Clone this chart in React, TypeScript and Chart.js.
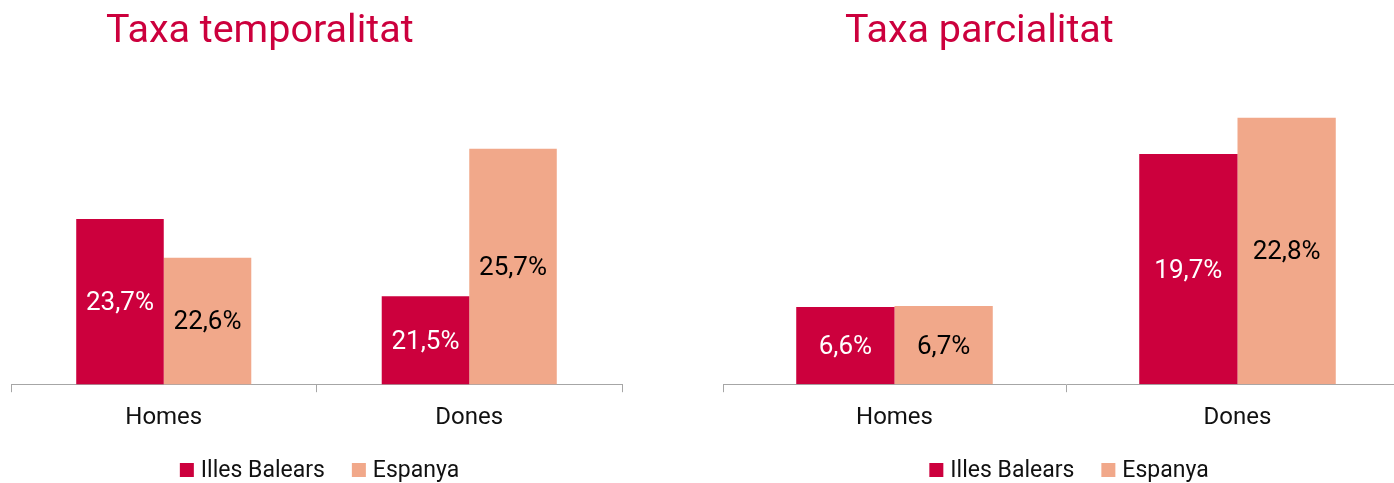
import React, { useEffect, useRef } from 'react';
import { Chart, registerables } from 'chart.js';

Chart.register(...registerables);

const categories = ['Homes', 'Dones'];
const seriesNames = ['Illes Balears', 'Espanya'];
const temporalitatIB = [23.7, 21.5];
const temporalitatES = [22.6, 25.7];
const parcialitatIB = [6.6, 19.7];
const parcialitatES = [6.7, 22.8];
const titles = ['Taxa temporalitat', 'Taxa parcialitat'];

const RED = '#CC003D';
const SALMON = '#F1A88A';
const AXIS = '#A6A6A6';
const FONT = 'Roboto';

const labelPlugin = {
  id: 'valueLabels',
  afterDatasetsDraw(chart: any) {
    const ctx = chart.ctx;
    const bottom = chart.chartArea.bottom;
    ctx.save();
    ctx.font = `400 26px ${FONT}`;
    ctx.textAlign = 'center';
    ctx.textBaseline = 'middle';
    chart.data.datasets.forEach((ds: any, i: number) => {
      const meta = chart.getDatasetMeta(i);
      ctx.fillStyle = i === 0 ? '#FFFFFF' : '#000000';
      meta.data.forEach((el: any, j: number) => {
        const v = ds.data[j];
        const txt = v.toFixed(1).replace('.', ',') + '%';
        const base = Math.min(el.base, bottom);
        const y = (el.y + base) / 2 + 2;
        ctx.fillText(txt, el.x, y);
      });
    });
    ctx.restore();
  },
};

// Legend drawn in the canvas with the reference's spacing
const legendPlugin = {
  id: 'customLegend',
  afterDraw(chart: any) {
    const ctx = chart.ctx;
    const box = 14;
    const gap = 7;
    const itemGap = 27;
    const cy = 470;
    ctx.save();
    ctx.font = `400 23px ${FONT}`;
    ctx.textBaseline = 'middle';
    ctx.textAlign = 'left';
    const items = chart.data.datasets.map((ds: any) => ({
      text: ds.label,
      color: ds.backgroundColor,
      w: box + gap + ctx.measureText(ds.label).width,
    }));
    const total = items.reduce((s: number, it: any) => s + it.w, 0) + itemGap * (items.length - 1);
    const ca = chart.chartArea;
    let x = (ca.left + ca.right) / 2 - total / 2 + 3;
    items.forEach((it: any) => {
      ctx.fillStyle = it.color;
      ctx.fillRect(x, cy - box / 2, box, box);
      ctx.fillStyle = '#111111';
      ctx.fillText(it.text, x + box + gap, cy + 1);
      x += it.w + itemGap;
    });
    ctx.restore();
  },
};

function makeConfig(ib: number[], es: number[], min: number, max: number, pad: any) {
  return {
    type: 'bar' as const,
    data: {
      labels: categories,
      datasets: [
        { label: seriesNames[0], data: ib, backgroundColor: RED, categoryPercentage: 0.573, barPercentage: 1 },
        { label: seriesNames[1], data: es, backgroundColor: SALMON, categoryPercentage: 0.573, barPercentage: 1 },
      ],
    },
    options: {
      responsive: false,
      animation: false as const,
      devicePixelRatio: 1,
      layout: { padding: pad },
      plugins: {
        legend: { display: false },
        tooltip: { enabled: false },
        title: { display: false },
      },
      scales: {
        x: {
          grid: { display: true, drawOnChartArea: false, drawTicks: true, tickLength: 8, color: AXIS, offset: true },
          border: { display: true, color: AXIS, width: 1 },
          ticks: { color: '#111111', font: { family: FONT, size: 24 }, padding: 11 },
        },
        y: { display: false, min, max },
      },
    },
    plugins: [labelPlugin, legendPlugin],
  };
}

function BarPanel(props: { ib: number[]; es: number[]; min: number; max: number; pad: any; left: number; width: number; height: number }) {
  const ref = useRef<HTMLCanvasElement>(null);
  useEffect(() => {
    if (!ref.current) return;
    const chart = new Chart(ref.current, makeConfig(props.ib, props.es, props.min, props.max, props.pad) as any);
    return () => chart.destroy();
  }, []);
  return (
    <canvas
      ref={ref}
      width={props.width}
      height={props.height}
      style={{ position: 'absolute', left: props.left, top: 0, width: props.width, height: props.height, display: 'block' }}
    />
  );
}

const titleStyle = (left: number): React.CSSProperties => ({
  position: 'absolute',
  left,
  top: 9,
  fontFamily: FONT,
  fontSize: 39.5,
  lineHeight: '40px',
  color: RED,
  whiteSpace: 'nowrap',
});

export default function App() {
  return (
    <div style={{ position: 'absolute', left: 0, top: 0, width: 1394, height: 483, overflow: 'hidden', background: '#FFFFFF' }}>
      <BarPanel ib={temporalitatIB} es={temporalitatES} min={19} max={27} pad={{ top: 103, left: 11, right: 78, bottom: 40 }} left={0} width={700} height={483} />
      <BarPanel ib={parcialitatIB} es={parcialitatES} min={0} max={25} pad={{ top: 92, left: 23, right: 11, bottom: 40 }} left={700} width={720} height={483} />
      <div style={titleStyle(106)}>{titles[0]}</div>
      <div style={titleStyle(845)}>{titles[1]}</div>
    </div>
  );
}
